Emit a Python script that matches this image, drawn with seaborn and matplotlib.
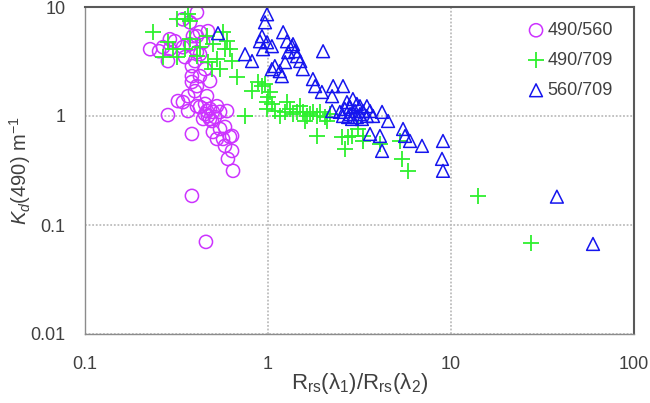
import matplotlib
matplotlib.use("Agg")
import matplotlib.pyplot as plt
from matplotlib.ticker import FixedLocator, FixedFormatter, NullLocator
import pandas as pd
import seaborn as sns

# Band-ratio pairs shown in the legend
pair_labels = ["490/560", "490/709", "560/709"]

# Rrs(490)/Rrs(560) against Kd(490)
ratio_490_560 = [0.227, 0.254, 0.284, 0.291, 0.267, 0.310, 0.291, 0.343, 0.343, 0.409,
                 0.375, 0.389, 0.409, 0.425, 0.470, 0.442, 0.409, 0.352, 0.375, 0.399,
                 0.425, 0.384, 0.453, 0.384, 0.425, 0.384, 0.409, 0.399, 0.482, 0.464,
                 0.366, 0.322, 0.343, 0.366, 0.284, 0.409, 0.425, 0.453, 0.482, 0.526,
                 0.464, 0.500, 0.547, 0.597, 0.453, 0.470, 0.442, 0.482, 0.513, 0.494,
                 0.384, 0.500, 0.547, 0.582, 0.526, 0.568, 0.636, 0.582, 0.620, 0.636,
                 0.604, 0.644, 0.384, 0.458]
kd_490_560 = [4.10, 3.93, 3.19, 4.10, 4.28, 4.85, 5.06, 4.28, 7.71, 8.90,
              7.24, 5.40, 5.40, 5.87, 6.00, 4.75, 3.85, 3.47, 4.56, 3.19,
              3.69, 2.87, 2.69, 2.32, 2.32, 2.05, 1.88, 1.69, 2.09, 1.52,
              1.52, 1.37, 1.34, 1.11, 1.02, 1.23, 1.21, 1.29, 1.16, 1.23,
              1.11, 1.09, 1.09, 1.11, 1.04, 1.00, 0.939, 0.939, 0.979, 0.900,
              0.684, 0.714, 0.760, 0.793, 0.616, 0.616, 0.656, 0.532, 0.643, 0.478,
              0.404, 0.314, 0.185, 0.070]

# Rrs(490)/Rrs(709) against Kd(490)
ratio_490_709 = [0.235, 0.318, 0.352, 0.375, 0.366, 0.284, 0.267, 0.303, 0.318, 0.352,
                 0.375, 0.425, 0.409, 0.464, 0.500, 0.470, 0.494, 0.526, 0.547, 0.568,
                 0.597, 0.582, 0.620, 0.677, 0.636, 0.749, 0.818, 0.882, 0.927, 0.963,
                 1.03, 1.00, 0.988, 1.05, 0.988, 1.09, 1.16, 1.27, 1.32, 1.24,
                 1.37, 1.44, 1.50, 1.55, 1.63, 1.70, 1.76, 1.85, 1.92, 1.59,
                 2.05, 2.18, 2.10, 1.85, 2.54, 2.74, 2.63, 2.88, 3.10, 3.30,
                 3.30, 4.09, 5.26, 5.40, 5.82, 14.1, 27.3]
kd_490_709 = [5.87, 7.71, 7.71, 7.40, 8.58, 4.75, 3.47, 4.10, 3.47, 4.10,
              5.06, 4.28, 3.54, 5.40, 4.56, 3.12, 2.69, 3.32, 2.69, 5.87,
              4.85, 4.10, 4.10, 2.27, 3.19, 1.00, 1.69, 2.05, 1.88, 1.96,
              1.66, 1.49, 1.34, 1.29, 1.16, 1.11, 1.00, 1.34, 1.16, 1.09,
              1.04, 1.09, 1.23, 1.09, 1.00, 1.04, 1.09, 1.00, 1.09, 0.900,
              0.979, 1.04, 0.900, 0.656, 0.643, 0.643, 0.499, 0.656, 0.760, 0.656,
              0.590, 0.555, 0.590, 0.404, 0.314, 0.185, 0.068]

# Rrs(560)/Rrs(709) against Kd(490)
ratio_560_709 = [0.533, 0.988, 0.963, 0.927, 0.904, 0.988, 0.749, 0.818, 0.939, 1.05,
                 1.21, 1.27, 1.35, 1.37, 1.41, 1.29, 1.44, 1.50, 1.24, 1.09,
                 1.16, 1.05, 1.19, 1.55, 2.00, 1.76, 1.81, 1.97, 2.27, 2.57,
                 2.24, 2.24, 2.47, 2.57, 2.70, 2.63, 2.81, 2.91, 2.74, 2.81,
                 2.88, 2.99, 3.06, 3.06, 3.18, 3.18, 3.26, 3.30, 3.47, 3.47,
                 3.61, 3.75, 4.20, 4.53, 3.61, 4.09, 4.20, 5.47, 5.61, 5.97,
                 6.94, 9.04, 8.93, 9.04, 37.9, 59.7]
kd_560_709 = [5.75, 8.58, 7.24, 5.40, 4.85, 4.75, 3.69, 3.19, 4.10, 4.37,
              5.87, 4.85, 4.37, 4.56, 3.93, 3.85, 3.54, 3.19, 3.12, 2.87,
              2.58, 2.69, 2.32, 2.69, 3.93, 2.18, 1.88, 1.66, 1.88, 1.88,
              1.52, 1.11, 1.09, 1.00, 1.34, 1.16, 1.21, 1.43, 0.979, 1.04,
              0.939, 1.11, 1.29, 0.979, 1.23, 1.04, 0.939, 1.11, 1.23, 1.00,
              1.11, 1.00, 1.09, 0.900, 0.684, 0.656, 0.478, 0.760, 0.656, 0.590,
              0.532, 0.590, 0.404, 0.314, 0.182, 0.067]

x_ticks = [0.1, 1, 10, 100]
x_tick_labels = ["0.1", "1", "10", "100"]
y_ticks = [0.01, 0.1, 1, 10]
y_tick_labels = ["0.01", "0.1", "1", "10"]

frames = []
for lab, xs, ys in zip(pair_labels,
                       [ratio_490_560, ratio_490_709, ratio_560_709],
                       [kd_490_560, kd_490_709, kd_560_709]):
    frames.append(pd.DataFrame({"ratio": xs, "kd": ys, "pair": lab}))
df = pd.concat(frames, ignore_index=True)

sns.set_style("white")
plt.rcParams["font.family"] = ["Liberation Sans", "DejaVu Sans"]
plt.rcParams["mathtext.fontset"] = "custom"
plt.rcParams["mathtext.rm"] = "Liberation Sans"
plt.rcParams["mathtext.it"] = "Liberation Sans:italic"

text_color = "#404040"
styles = {
    "490/560": dict(marker="o", color="#CC33FF", s=90, facecolor="none", linewidth=1.1),
    "490/709": dict(marker="+", color="#2EF02E", s=120, linewidth=1.3),
    "560/709": dict(marker="^", color="#1515EE", s=85, facecolor="none", linewidth=1.1),
}

fig = plt.figure(figsize=(6.5, 4.03), dpi=100)
ax = fig.add_axes([85 / 650, 1 - 334 / 403, 549 / 650, 327 / 403])
ax.set_xscale("log")
ax.set_yscale("log")

for lab in pair_labels:
    st = dict(styles[lab])
    c = st.pop("color")
    sub = df[df["pair"] == lab]
    if st.get("facecolor") == "none":
        sns.scatterplot(data=sub, x="ratio", y="kd", ax=ax, edgecolor=c, color=c,
                        label=lab, legend=False, **st)
    else:
        sns.scatterplot(data=sub, x="ratio", y="kd", ax=ax, color=c,
                        label=lab, legend=False, **st)

ax.set_xlim(0.1, 100)
ax.set_ylim(0.01, 10)
ax.xaxis.set_major_locator(FixedLocator(x_ticks))
ax.xaxis.set_major_formatter(FixedFormatter(x_tick_labels))
ax.yaxis.set_major_locator(FixedLocator(y_ticks))
ax.yaxis.set_major_formatter(FixedFormatter(y_tick_labels))
ax.xaxis.set_minor_locator(NullLocator())
ax.yaxis.set_minor_locator(NullLocator())
ax.tick_params(axis="both", length=0, labelsize=13, labelcolor=text_color)
ax.tick_params(axis="x", pad=16)
ax.tick_params(axis="y", pad=14)

ax.grid(True, which="major", color="#BDBDBD", linestyle=(0, (1, 1)), linewidth=1.3)
ax.set_axisbelow(True)

for side in ["left", "bottom"]:
    ax.spines[side].set_color("#8C8C8C")
    ax.spines[side].set_linewidth(1.0)
for side in ["top", "right"]:
    ax.spines[side].set_color("#595959")
    ax.spines[side].set_linewidth(1.5)

ax.set_xlabel(r"R$_{\mathrm{rs}}$(λ$_{\mathrm{1}}$)/R$_{\mathrm{rs}}$(λ$_{\mathrm{2}}$)",
              fontsize=16, color=text_color)
ax.xaxis.label.set_va("center")
ax.xaxis.set_label_coords(0.5, (334 - 384) / 327)
ax.set_ylabel(r"$\mathit{K_d}$(490) m$^{\mathrm{-1}}$", fontsize=14.5, color=text_color)
ax.yaxis.label.set_va("center")
ax.yaxis.set_label_coords((20 - 85) / 549, 0.5)

ax.legend(loc="upper left", bbox_to_anchor=((527 - 85) / 549, (334 - 22) / 327),
          frameon=False, fontsize=13, borderpad=0, borderaxespad=0,
          handlelength=1.0, handletextpad=0.15, labelspacing=0.72,
          labelcolor=text_color)

fig.savefig("out.png", dpi=100)
